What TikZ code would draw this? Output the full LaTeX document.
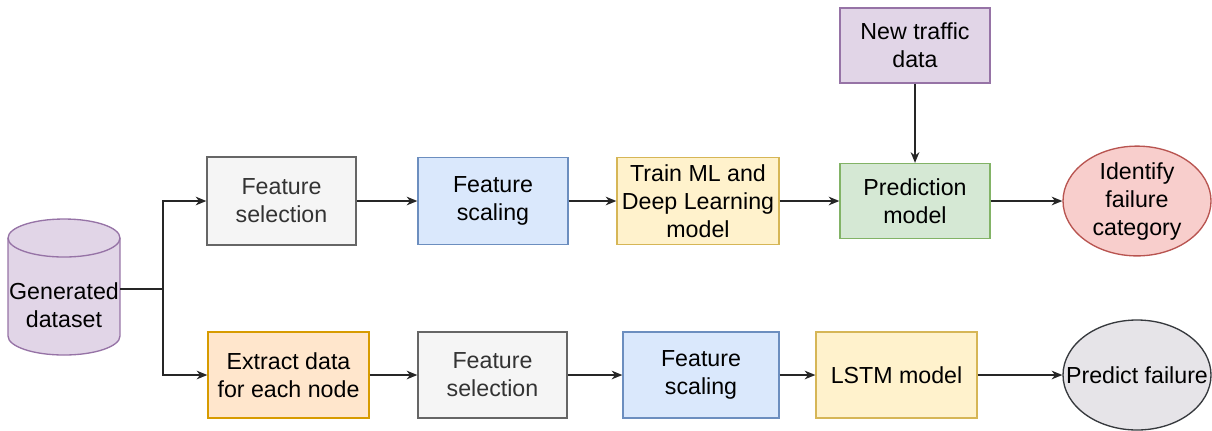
\documentclass[tikz,border=0pt]{standalone}
\usepackage{fontspec}
\setmainfont{Liberation Sans}
\usetikzlibrary{arrows.meta,shapes.geometric}
\definecolor{grayF}{HTML}{F5F5F5}\definecolor{grayD}{HTML}{666666}
\definecolor{blueF}{HTML}{DAE8FC}\definecolor{blueD}{HTML}{6C8EBF}
\definecolor{yelF}{HTML}{FFF2CC}\definecolor{yelD}{HTML}{D6B656}
\definecolor{orF}{HTML}{FFE6CC}\definecolor{orD}{HTML}{D79B00}
\definecolor{grnF}{HTML}{D5E8D4}\definecolor{grnD}{HTML}{82B366}
\definecolor{purF}{HTML}{E1D5E7}\definecolor{purD}{HTML}{9673A6}
\definecolor{redF}{HTML}{F8CECC}\definecolor{redD}{HTML}{B85450}
\definecolor{gryF}{HTML}{E6E4E8}\definecolor{gryD}{HTML}{36393D}
\definecolor{txtG}{HTML}{333333}
\tikzset{
  box/.style={rectangle, draw=#1D, fill=#1F, line width=1pt, align=center,
    font=\fontsize{17.4}{21}\selectfont, inner sep=0pt},
  oval/.style={ellipse, draw=#1D, fill=#1F, line width=1pt, align=center,
    font=\fontsize{17.4}{21}\selectfont, inner sep=0pt},
  link/.style={line width=1.1pt, draw=black!85, -{Stealth[length=8pt,width=6.5pt,inset=2.5pt]}},
  plain/.style={line width=1.1pt, draw=black!85},
}
\begin{document}
\begin{tikzpicture}[x=0.75pt, y=-0.75pt]
\useasboundingbox (0,0) rectangle (1212,430);

% database cylinder
\fill[purF] (8,238) rectangle (120,336);
\fill[purF] (64,336) ellipse [x radius=56, y radius=19];
\draw[purD, line width=1pt] (8,238) -- (8,336)
  arc[start angle=180, end angle=0, x radius=56, y radius=19] -- (120,238);
\draw[purD, fill=purF, line width=1pt] (64,238) ellipse [x radius=56, y radius=19];
\node[font=\fontsize{17.4}{21}\selectfont, align=center, inner sep=0pt] (ds) at (64,305) {Generated\\dataset};
\coordinate (dsr) at (120,289);
\coordinate (j) at (163,289);

% upper branch
\node[box=gray, text=txtG, minimum width=111.75pt, minimum height=66pt] (fs1) at (281.5,201) {Feature\\selection};
\node[box=blue, minimum width=112.5pt, minimum height=65.25pt] (sc1) at (493,201) {Feature\\scaling};
\node[box=yel, minimum width=121.5pt, minimum height=65.25pt] (tr) at (698,201) {Train ML and\\Deep Learning\\model};
\node[box=grn, minimum width=112.5pt, minimum height=56.25pt] (pm) at (915,201) {Prediction\\model};
\node[box=pur, minimum width=112.5pt, minimum height=56.25pt] (nt) at (915,45.5) {New traffic\\data};
\node[oval=red, minimum width=111pt, minimum height=74.25pt] (id) at (1137,201) {Identify\\failure\\category};

% lower branch
\node[box=or, minimum width=120.75pt, minimum height=64.5pt] (ex) at (288.5,375) {Extract data\\for each node};
\node[box=gray, text=txtG, minimum width=111.75pt, minimum height=64.5pt] (fs2) at (492.5,375) {Feature\\selection};
\node[box=blue, minimum width=117pt, minimum height=64.5pt] (sc2) at (701,375) {Feature\\scaling};
\node[box=yel, minimum width=120.75pt, minimum height=64.5pt] (lstm) at (896.5,375) {LSTM model};
\node[oval=gry, inner xsep=-14pt, minimum width=111pt, minimum height=82.5pt] (pf) at (1137,375) {Predict failure};

% connectors
\draw[plain] (dsr) -- (j);
\draw[link] (j) |- (fs1.west);
\draw[link] (j) |- (ex.west);
\draw[link] (fs1) -- (sc1);
\draw[link] (sc1) -- (tr);
\draw[link] (tr) -- (pm);
\draw[link] (nt) -- (pm);
\draw[link] (pm) -- (id);
\draw[link] (ex) -- (fs2);
\draw[link] (fs2) -- (sc2);
\draw[link] (sc2) -- (lstm);
\draw[link] (lstm) -- (pf);
\end{tikzpicture}
\end{document}
